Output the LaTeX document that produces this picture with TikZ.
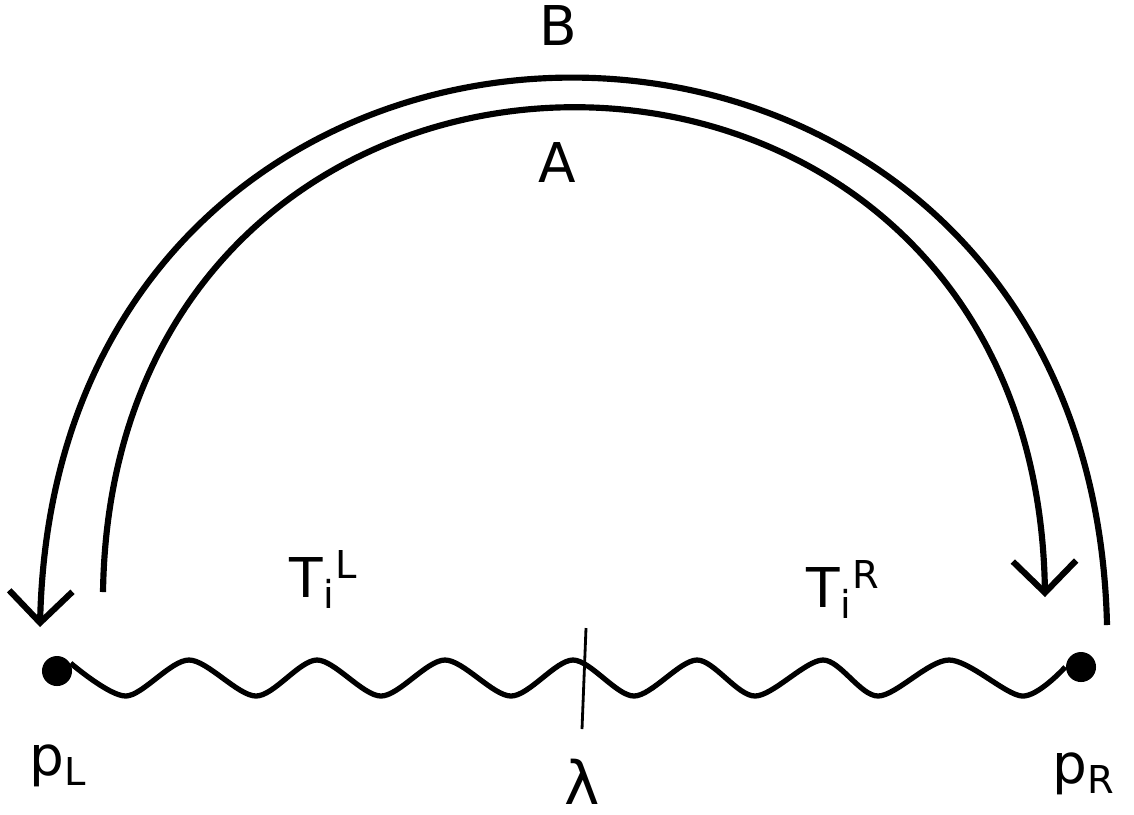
\documentclass[tikz,border=0pt]{standalone}
\usepackage{fontspec}
\setmainfont{DejaVu Sans}
\usetikzlibrary{arrows.meta}

\begin{document}
\begin{tikzpicture}[
    x=0.01cm, y=-0.01cm,
    arcline/.style={line width=1.75pt, -{Straight Barb[length=9pt, width=18pt]}},
    wave/.style={line width=1.5pt},
    cut/.style={line width=0.8pt},
    endpt/.style={circle, fill=black, minimum size=0.3cm, inner sep=0pt},
    lbl/.style={font=\fontsize{15.6}{18}\selectfont, inner sep=0pt}
]
\useasboundingbox (0,0) rectangle (1134,814);

% End points of the string
\node[endpt] (pL) at (57,671) {};
\node[endpt] (pR) at (1081,667) {};

% Outer arc B (right to left) and inner arc A (left to right)
\coordinate (Bstart) at (1107,625);
\coordinate (Btip) at (40,627);
\coordinate (Astart) at (103,592);
\coordinate (Atip) at (1045,597);
\draw[arcline] (Bstart) .. controls (1090,-104) and (57,-104) .. (Btip);
\draw[arcline] (Astart) .. controls (113,-54) and (1035,-54) .. (Atip);

% Wavy string between the end points
\draw[wave] plot[smooth] coordinates {(pL.30) (126,696) (189,660) (256,696)
    (317,660) (381,696) (445,660) (511,696) (573,660) (634,696) (697,660)
    (755,696) (823,660) (878,696) (949,660) (1022,696) (pR.180)};

% Cut at lambda
\coordinate (cuttop) at (586,628);
\coordinate (cutbot) at (582,729);
\draw[cut] (cuttop) -- (cutbot);

% Labels
\node[lbl, anchor=base] (labB) at (558,45) {B};
\node[lbl, anchor=base] (labA) at (557,182) {A};
\node[lbl, anchor=base west] (labTL) at (289,597) {T\textsubscript{i}\textsuperscript{L}};
\node[lbl, anchor=base west] (labTR) at (806,607) {T\textsubscript{i}\textsuperscript{R}};
\node[lbl, anchor=base west] (labpL) at (29,775) {p\textsubscript{L}};
\node[lbl, anchor=base west] (labpR) at (1052,783) {p\textsubscript{R}};
\node[lbl, anchor=base, font=\fontsize{17}{18}\selectfont] (lablam) at (582,804) {λ};

\end{tikzpicture}
\end{document}
